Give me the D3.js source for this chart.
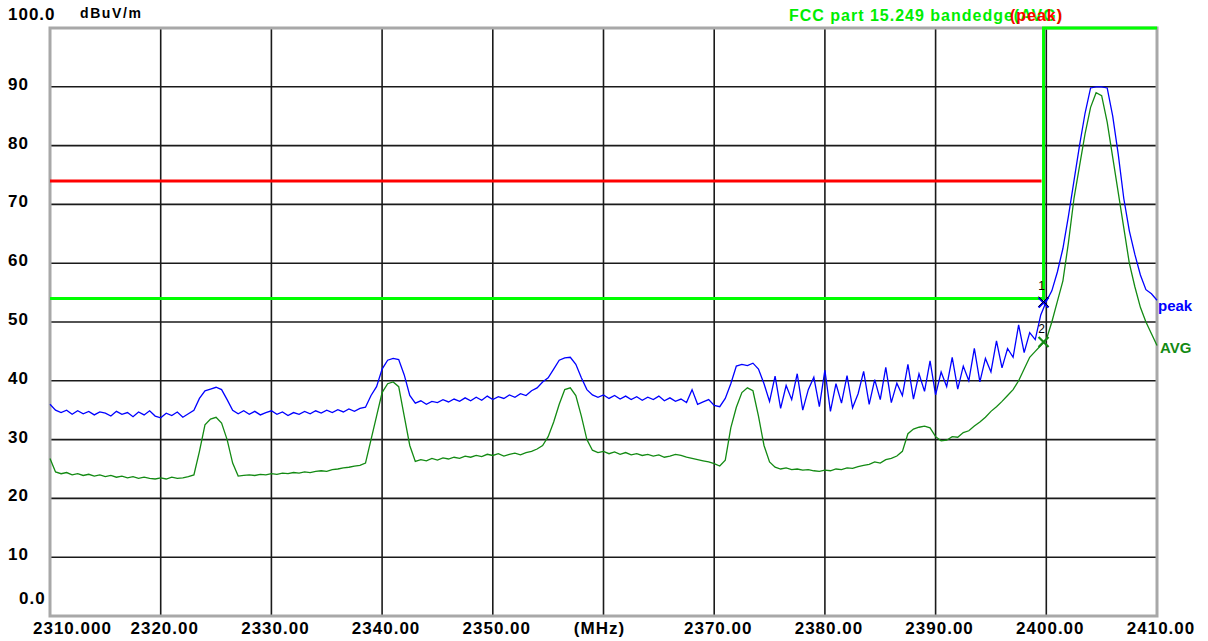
<!DOCTYPE html>
<meta charset="utf-8">
<style>
body {
  margin: 0;
  padding: 0;
  background: #fff;
}
text {
  font-family: "Liberation Sans", Arial, sans-serif;
  font-weight: bold;
}
</style>
<body>
<script src="https://cdn.jsdelivr.net/npm/d3@7"></script>
<script>

// sweep: 2310 MHz .. 2410 MHz every 0.5 MHz
var freqStart = 2310,
    freqStep = 0.5;

var peakValues = [
  36.0, 35.0, 34.6, 35.0, 34.3, 34.9, 34.4, 34.8, 34.2, 34.7,
  34.5, 34.0, 34.8, 34.3, 34.6, 33.9, 34.7, 34.2, 34.9, 34.0,
  33.7, 34.5, 34.1, 34.7, 33.8, 34.4, 35.0, 37.0, 38.3, 38.6,
  38.9, 38.5, 36.8, 35.0, 34.4, 34.9, 34.3, 34.8, 34.2, 34.6,
  34.9, 34.3, 34.7, 34.1, 34.6, 34.3, 34.8, 34.4, 34.9, 34.5,
  35.0, 34.6, 35.1, 34.7, 35.2, 34.8, 35.3, 35.5, 37.5, 39.0,
  42.0, 43.5, 43.8, 43.6, 41.0, 37.5, 36.2, 36.6, 36.0, 36.5,
  36.3, 36.8, 36.4, 36.9, 36.5, 37.1, 36.6, 37.2, 36.7, 37.4,
  36.8, 37.3, 37.0, 37.6, 37.2, 37.8, 37.5, 38.3, 38.8, 39.8,
  40.5, 42.0, 43.5, 43.9, 44.0, 42.8, 40.5, 38.5, 37.6, 37.2,
  37.6, 37.0, 37.5, 36.9, 37.4, 36.8, 37.3, 36.7, 37.2, 36.8,
  37.4, 36.6, 37.1, 36.5, 36.9, 36.3, 38.5, 36.0, 36.4, 36.8,
  35.8, 35.6, 37.0, 39.5, 42.5, 42.8, 42.6, 43.0, 42.0, 39.5,
  36.5, 40.8, 35.3, 39.2, 36.8, 41.2, 35.0, 38.5, 40.6, 35.6,
  41.8, 34.8, 39.5, 36.2, 40.9, 35.4, 37.8, 41.6, 36.0, 40.2,
  36.8, 42.3, 36.3, 39.6, 37.5, 42.8, 36.9, 41.2, 38.2, 43.4,
  37.6, 41.5, 39.0, 44.0, 38.6, 42.5, 40.0, 45.5, 39.8, 43.8,
  41.5, 46.8, 42.2, 45.5, 44.0, 49.5, 44.8, 48.2, 47.0, 51.2,
  53.5, 55.3, 58.5, 62.5, 68.0, 74.0, 80.0, 85.5, 89.8, 90.0,
  90.0, 89.8, 85.0, 78.5, 71.0, 65.5, 61.5, 58.0, 55.5, 54.8,
  53.7
];

var avgValues = [
  26.8, 24.5, 24.2, 24.4, 24.0, 24.2, 23.9, 24.1, 23.8, 24.0,
  23.7, 23.9, 23.6, 23.8, 23.5, 23.7, 23.4, 23.6, 23.4, 23.3,
  23.5, 23.3, 23.6, 23.4, 23.5, 23.7, 24.0, 28.0, 32.5, 33.5,
  33.8, 32.8, 30.0, 26.0, 23.8, 23.9, 24.0, 23.9, 24.1, 24.0,
  24.2, 24.1, 24.3, 24.2, 24.4, 24.3, 24.5, 24.4, 24.6, 24.7,
  24.6, 24.9, 25.0, 25.2, 25.3, 25.5, 25.6, 26.0, 30.0, 34.0,
  38.0, 39.5, 39.8, 39.0, 34.0, 29.0, 26.3, 26.6, 26.4, 26.8,
  26.5, 26.9, 26.7, 27.0, 26.8, 27.2, 27.0, 27.3, 27.1, 27.5,
  27.3, 27.6, 27.2, 27.5, 27.7, 27.4, 27.8, 28.0, 28.4, 29.0,
  30.5, 33.0, 36.0, 38.5, 38.8, 37.5, 34.0, 30.0, 28.2, 27.8,
  28.0, 27.6, 27.9, 27.5, 27.8, 27.4, 27.6, 27.3, 27.5, 27.2,
  27.4, 27.0, 27.2, 27.5, 27.3, 27.0, 26.8, 26.6, 26.4, 26.2,
  25.9, 25.5, 26.5, 32.0, 35.5, 38.0, 38.8, 38.3, 34.0, 29.0,
  26.2, 25.3, 25.0, 25.2, 24.9, 25.0, 24.8, 24.9, 24.7, 24.6,
  24.8, 24.7, 25.0, 24.9, 25.2, 25.1, 25.4, 25.6, 25.8, 26.2,
  26.0, 26.6, 26.8, 27.2, 28.0, 31.0, 31.8, 32.1, 32.3, 32.0,
  30.5, 29.8, 29.9, 30.5, 30.4, 31.2, 31.5, 32.3, 33.0, 33.8,
  34.8, 35.6, 36.5, 37.5, 38.5, 40.0, 42.0, 44.0, 45.0, 46.0,
  47.0, 50.0, 53.5, 57.0, 63.5, 71.0, 76.5, 82.0, 86.5, 89.0,
  88.5, 84.0, 78.0, 72.0, 66.0, 60.0, 56.0, 52.5, 50.0, 48.0,
  46.0
];

var xTicks = [2310, 2320, 2330, 2340, 2350, 2360, 2370, 2380, 2390, 2400, 2410];
var xTickLabels = ["2310.000", "2320.00", "2330.00", "2340.00", "2350.00", "(MHz)",
                   "2370.00", "2380.00", "2390.00", "2400.00", "2410.00"];
var yTicks = [0, 10, 20, 30, 40, 50, 60, 70, 80, 90, 100];
var yTickLabels = ["0.0", "10", "20", "30", "40", "50", "60", "70", "80", "90", "100.0"];

var bandEdge = 2399.75,   // limit lines stop here
    peakLimit = 74,
    avgLimit = 54;

var markerFreqs = [2399.75, 2399.75];
var markerValues = [53.3, 46.6];
var markerLabels = ["1", "2"];

var width = 1208,
    height = 641,
    plotLeft = 50, plotRight = 1157, plotTop = 28, plotBottom = 616;

var x = d3.scaleLinear().domain([2310, 2410]).range([plotLeft, plotRight]);
var y = d3.scaleLinear().domain([0, 100]).range([plotBottom, plotTop]);

var svg = d3.select("body").append("svg")
    .attr("width", width)
    .attr("height", height);

// grid
svg.selectAll("line.vgrid")
    .data(xTicks.slice(1, -1))
  .enter().append("line")
    .attr("x1", d => x(d)).attr("x2", d => x(d))
    .attr("y1", plotTop).attr("y2", plotBottom)
    .style("stroke", "#1a1a1a").style("stroke-width", 1.6);

svg.selectAll("line.hgrid")
    .data(yTicks.slice(1, -1))
  .enter().append("line")
    .attr("x1", plotLeft).attr("x2", plotRight)
    .attr("y1", d => y(d)).attr("y2", d => y(d))
    .style("stroke", "#1a1a1a").style("stroke-width", 1.6);

// frame
svg.append("rect")
    .attr("x", plotLeft).attr("y", plotTop)
    .attr("width", plotRight - plotLeft).attr("height", plotBottom - plotTop)
    .style("fill", "none")
    .style("stroke", "#a8a8a8")
    .style("stroke-width", 3);

// y labels
svg.selectAll("text.ylab")
    .data(yTicks)
  .enter().append("text")
    .attr("x", (d, i) => i === 0 ? 19 : 8)
    .attr("y", (d, i) => i === 0 ? 604 : (i === yTicks.length - 1 ? 20 : y(d) + 3))
    .style("font-size", "17px")
    .style("letter-spacing", "1px")
    .style("fill", "#000")
    .text((d, i) => yTickLabels[i]);

svg.append("text")
    .attr("x", 80).attr("y", 18)
    .style("font-size", "14px")
    .style("letter-spacing", "1.6px")
    .text("dBuV/m");

// x labels
svg.selectAll("text.xlab")
    .data(xTicks)
  .enter().append("text")
    .attr("x", (d, i) => i === 0 ? 33 : (xTickLabels[i] === "(MHz)" ? x(d) - 4 : x(d) + 4))
    .attr("y", 634)
    .attr("text-anchor", (d, i) => i === 0 ? "start" : "middle")
    .style("font-size", "17px")
    .style("letter-spacing", "1px")
    .text((d, i) => xTickLabels[i]);

// limit lines
svg.append("line")
    .attr("x1", x(2310)).attr("x2", x(bandEdge) - 2)
    .attr("y1", y(peakLimit)).attr("y2", y(peakLimit))
    .style("stroke", "#ff0000").style("stroke-width", 3);

svg.append("path")
    .attr("d", d3.line()([
      [x(2310), y(avgLimit)], [x(bandEdge), y(avgLimit)],
      [x(bandEdge), y(100)], [x(2410), y(100)]
    ]))
    .style("fill", "none")
    .style("stroke", "#00ff00").style("stroke-width", 3);

// traces
var line = d3.line()
    .x((d, i) => x(freqStart + i * freqStep))
    .y(d => y(d));

svg.append("path")
    .datum(avgValues)
    .attr("d", line)
    .style("fill", "none")
    .style("stroke", "#138a13")
    .style("stroke-width", 1.3);

svg.append("path")
    .datum(peakValues)
    .attr("d", line)
    .style("fill", "none")
    .style("stroke", "#0000ff")
    .style("stroke-width", 1.3);

// markers
var markerColors = ["#0000ff", "#138a13"];
markerValues.forEach(function (v, i) {
  var cx = x(markerFreqs[i]), cy = y(v), r = 5;
  var g = svg.append("g");
  g.append("path")
      .attr("d", "M" + (cx - r) + "," + (cy - r) + "L" + (cx + r) + "," + (cy + r) +
                 "M" + (cx - r) + "," + (cy + r) + "L" + (cx + r) + "," + (cy - r))
      .style("stroke", markerColors[i]).style("stroke-width", 2.2);
  if (i === 0) {
    g.append("path")
        .attr("d", "M" + (cx - r) + "," + (cy - r - 1) + "L" + (cx + r) + "," + (cy + r - 1) +
                   "M" + (cx - r) + "," + (cy + r - 1) + "L" + (cx + r) + "," + (cy - r - 1))
        .style("stroke", "#000").style("stroke-width", 1);
  }
  g.append("text")
      .attr("x", cx - 2)
      .attr("y", i === 0 ? cy - 13 : cy - 9)
      .attr("text-anchor", "middle")
      .style("font-size", "12px")
      .style("font-weight", "normal")
      .text(markerLabels[i]);
});

// trace names
svg.append("text")
    .attr("x", 1158).attr("y", 311)
    .style("font-size", "15px")
    .style("fill", "#0000ff")
    .text("peak");

svg.append("text")
    .attr("x", 1160).attr("y", 353)
    .style("font-size", "15px")
    .style("fill", "#138a13")
    .text("AVG");

// title
svg.append("text")
    .attr("x", 1063).attr("y", 21)
    .attr("text-anchor", "end")
    .style("font-size", "16px")
    .style("letter-spacing", "1px")
    .style("fill", "#00ee00")
    .text("FCC part 15.249 bandedge(AVG)");

svg.append("text")
    .attr("x", 1063).attr("y", 21)
    .attr("text-anchor", "end")
    .style("font-size", "16px")
    .style("letter-spacing", "1px")
    .style("fill", "#ff0000")
    .text("(peak)");

</script>
